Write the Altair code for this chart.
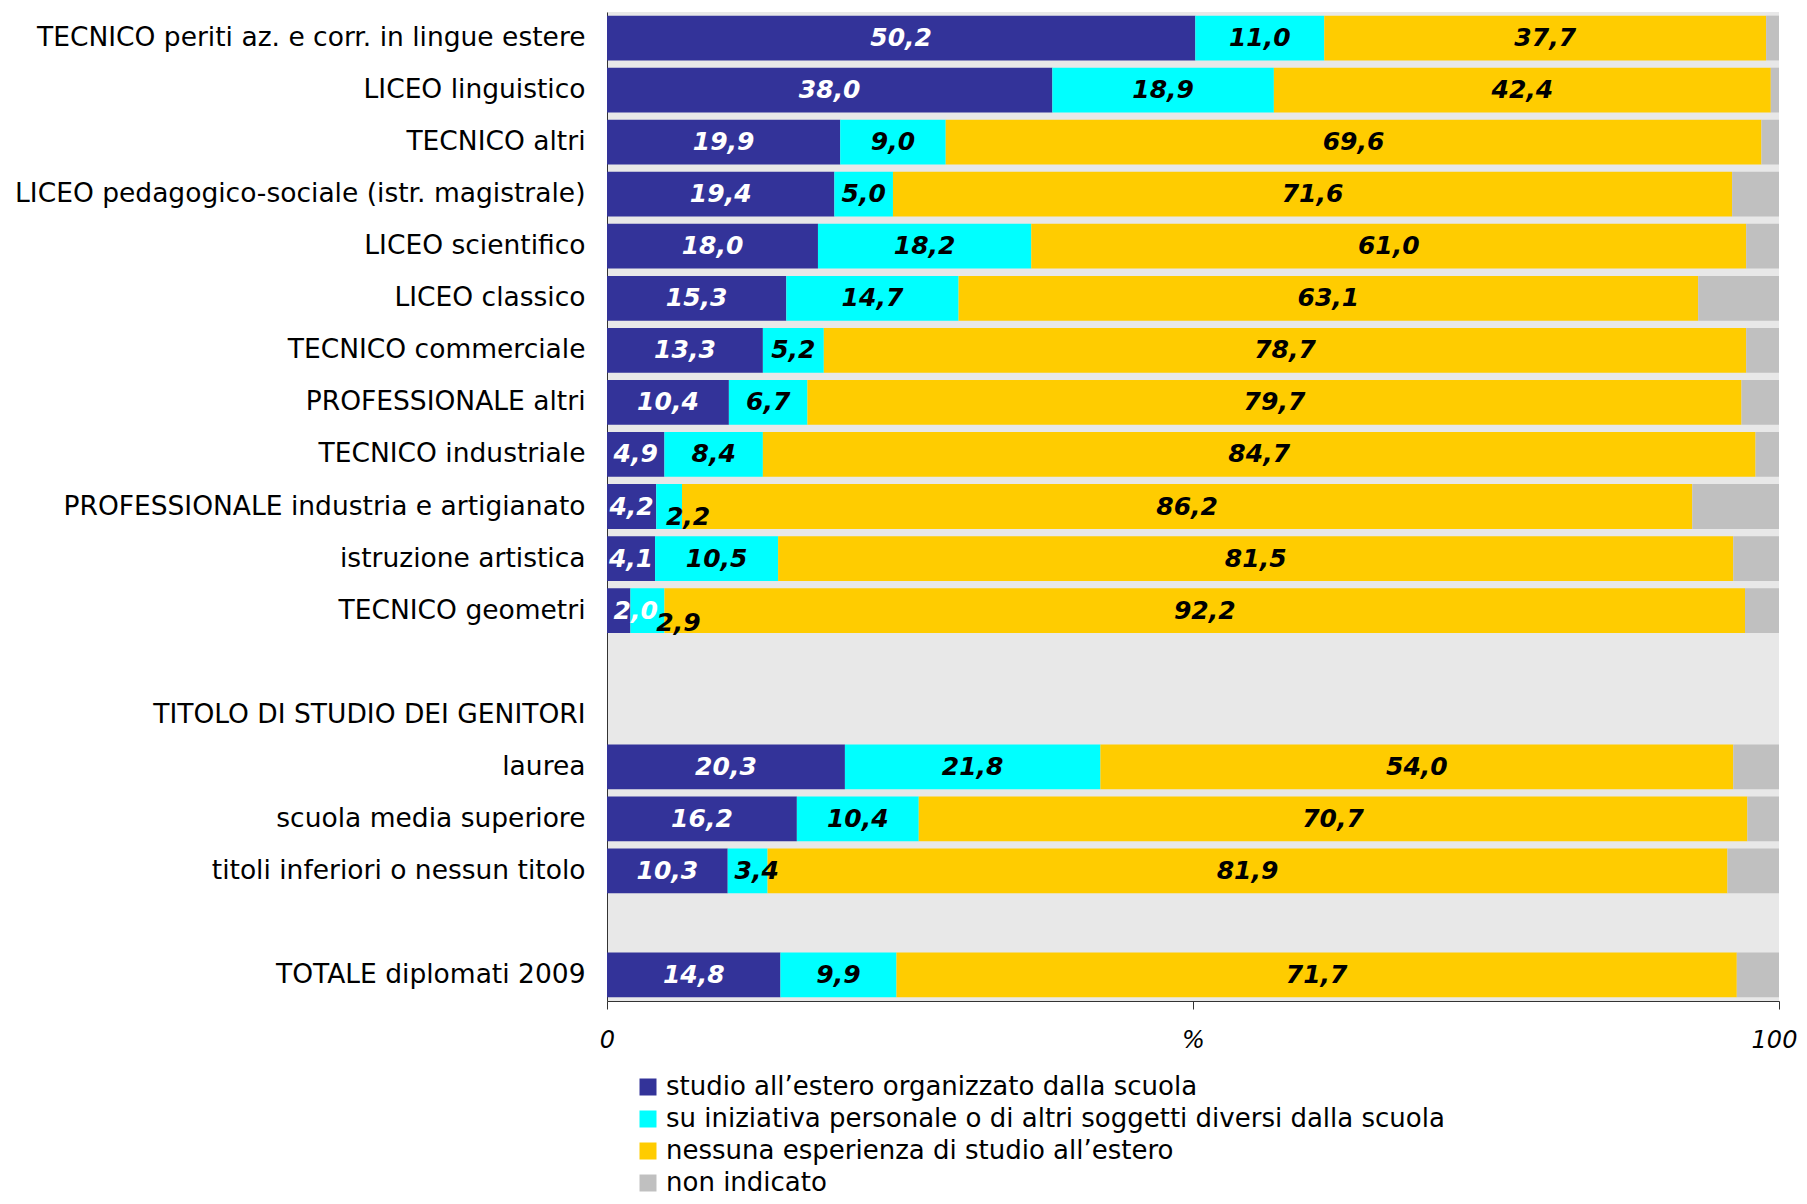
import altair as alt
import pandas as pd

# Row layout (top to bottom), including the two empty separator rows and the header row
categories = [
    "TECNICO periti az. e corr. in lingue estere",
    "LICEO linguistico",
    "TECNICO altri",
    "LICEO pedagogico-sociale (istr. magistrale)",
    "LICEO scientifico",
    "LICEO classico",
    "TECNICO commerciale",
    "PROFESSIONALE altri",
    "TECNICO industriale",
    "PROFESSIONALE industria e artigianato",
    "istruzione artistica",
    "TECNICO geometri",
    " ",
    "TITOLO DI STUDIO DEI GENITORI",
    "laurea",
    "scuola media superiore",
    "titoli inferiori o nessun titolo",
    "  ",
    "TOTALE diplomati 2009",
]

bar_categories = [
    "TECNICO periti az. e corr. in lingue estere",
    "LICEO linguistico",
    "TECNICO altri",
    "LICEO pedagogico-sociale (istr. magistrale)",
    "LICEO scientifico",
    "LICEO classico",
    "TECNICO commerciale",
    "PROFESSIONALE altri",
    "TECNICO industriale",
    "PROFESSIONALE industria e artigianato",
    "istruzione artistica",
    "TECNICO geometri",
    "laurea",
    "scuola media superiore",
    "titoli inferiori o nessun titolo",
    "TOTALE diplomati 2009",
]

series = [
    "studio all’estero organizzato dalla scuola",
    "su iniziativa personale o di altri soggetti diversi dalla scuola",
    "nessuna esperienza di studio all’estero",
    "non indicato",
]
colors = ["#333399", "#00FFFF", "#FFCC00", "#C0C0C0"]

scuola = [50.2, 38.0, 19.9, 19.4, 18.0, 15.3, 13.3, 10.4, 4.9, 4.2, 4.1, 2.0, 20.3, 16.2, 10.3, 14.8]
personale = [11.0, 18.9, 9.0, 5.0, 18.2, 14.7, 5.2, 6.7, 8.4, 2.2, 10.5, 2.9, 21.8, 10.4, 3.4, 9.9]
nessuna = [37.7, 42.4, 69.6, 71.6, 61.0, 63.1, 78.7, 79.7, 84.7, 86.2, 81.5, 92.2, 54.0, 70.7, 81.9, 71.7]
non_indicato = [1.1, 0.7, 1.5, 4.0, 2.8, 6.9, 2.8, 3.2, 2.0, 7.4, 3.9, 2.9, 3.9, 2.7, 4.4, 3.6]

rows = []
for k, vals in enumerate([scuola, personale, nessuna, non_indicato]):
    for c, v in zip(bar_categories, vals):
        rows.append({"cat": c, "series": series[k], "order": k, "value": v})
df = pd.DataFrame(rows)

FONT = "DejaVu Sans"

y_enc = alt.Y(
    "cat:N",
    sort=categories,
    scale=alt.Scale(domain=categories, paddingInner=0.14, paddingOuter=0.07),
    axis=alt.Axis(
        title=None, ticks=False, domain=True, domainColor="#333333", domainWidth=1,
        labelFont=FONT, labelFontSize=26.5, labelColor="black", labelPadding=22,
        labelLimit=800, labelOverlap=False,
    ),
)

base = alt.Chart(df).transform_stack(
    stack="value", groupby=["cat"], as_=["v0", "v1"], sort=[alt.SortField("order")]
).transform_calculate(
    mid="(datum.v0 + datum.v1) / 2",
    lab="replace(format(datum.value, '.1f'), '.', ',')",
)

bars = base.mark_bar().encode(
    y=y_enc,
    x=alt.X(
        "v0:Q",
        scale=alt.Scale(domain=[0, 100], nice=False, zero=True),
        axis=alt.Axis(
            title=None, values=[0, 50, 100], grid=False,
            labelExpr="datum.value == 50 ? '%' : datum.label",
            tickSize=8, tickColor="#333333", domainColor="#333333",
            labelFont=FONT, labelFontSize=24, labelFontStyle="italic",
            labelOffset=alt.condition("datum.value == 100", alt.value(-5), alt.value(0)),
            labelColor="black", labelPadding=19, labelFlush=False, labelOverlap=False,
        ),
    ),
    x2="v1:Q",
    color=alt.Color(
        "series:N",
        scale=alt.Scale(domain=series, range=colors),
        legend=alt.Legend(
            title=None, orient="none", direction="vertical",
            legendX=28, legendY=1062,
            symbolType="square", symbolSize=289, symbolStrokeWidth=0, symbolOpacity=1,
            labelFont=FONT, labelFontSize=26, labelColor="black",
            labelOffset=5, rowPadding=6, padding=0, labelLimit=1000,
        ),
    ),
    order=alt.Order("order:Q"),
)

geom = "TECNICO geometri"
prof = "PROFESSIONALE industria e artigianato"
titoli = "titoli inferiori o nessun titolo"

special = (
    f"(datum.cat == '{geom}' && datum.order <= 1) || "
    f"(datum.cat == '{prof}' && datum.order == 1) || "
    f"(datum.cat == '{titoli}' && datum.order == 1)"
)

text_props = dict(font=FONT, fontSize=25, fontWeight="bold", fontStyle="italic")
text_color = alt.condition("datum.order == 0", alt.value("white"), alt.value("black"))


def label_layer(filter_expr, **offsets):
    return base.transform_filter(filter_expr).mark_text(**text_props, **offsets).encode(
        y=y_enc, x="mid:Q", text="lab:N", color=text_color
    )


labels = label_layer(f"datum.order < 3 && !({special})")
lab_geom_blue = label_layer(f"datum.cat == '{geom}' && datum.order == 0", dx=17)
lab_geom_cyan = label_layer(f"datum.cat == '{geom}' && datum.order == 1", dx=31, dy=12)
lab_prof_cyan = label_layer(f"datum.cat == '{prof}' && datum.order == 1", dx=19, dy=10)
lab_titoli_cyan = label_layer(f"datum.cat == '{titoli}' && datum.order == 1", dx=9)

chart = alt.layer(
    bars, labels, lab_geom_blue, lab_geom_cyan, lab_prof_cyan, lab_titoli_cyan
).properties(
    width=1172,
    height=989,
    background="white",
    autosize=alt.AutoSizeParams(type="none"),
    padding={"left": 599, "top": 4, "right": 20, "bottom": 195},
).configure_view(fill="#E8E8E8", strokeWidth=0)

chart.save("out.html", embed_options={"renderer": "svg", "actions": False})
